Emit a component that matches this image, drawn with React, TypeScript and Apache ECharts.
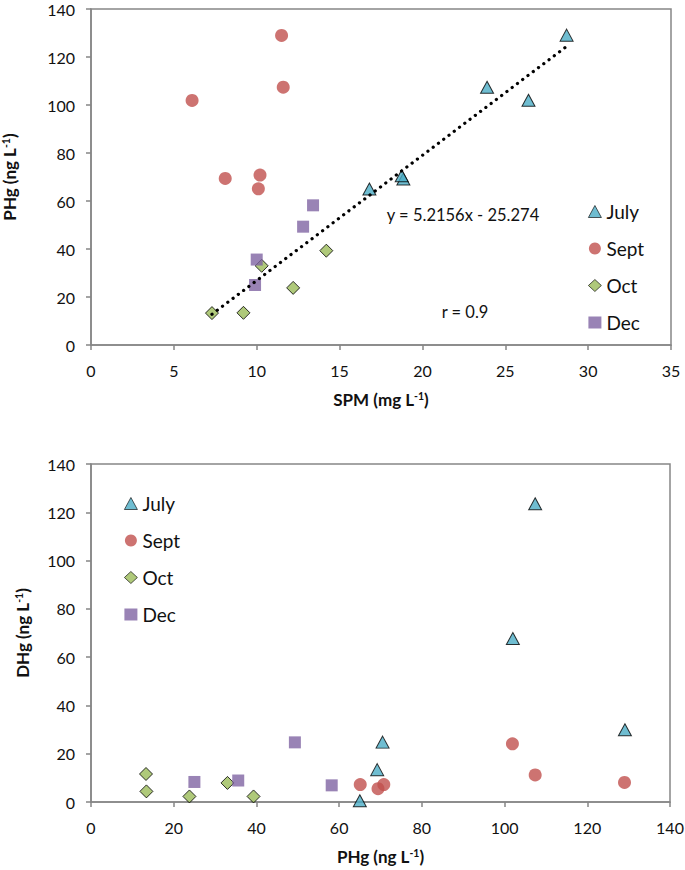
import React, { useEffect, useRef } from "react";
import * as echarts from "echarts";

// ---- data ----
const months = ["July", "Sept", "Oct", "Dec"];

const julySPM = [16.8, 18.85, 18.75, 23.9, 26.4, 28.7];
const julyPHg = [65, 69.2, 70.5, 107.4, 102, 129.1];
const julyDHg = [0.5, 13.4, 24.8, 123.5, 67.7, 29.9];

const septSPM = [6.1, 8.1, 10.2, 10.1, 11.5, 11.6];
const septPHg = [101.9, 69.4, 70.8, 65.1, 129, 107.4];
const septDHg = [24.1, 5.5, 7.2, 7.2, 8.1, 11.2];

const octSPM = [7.3, 9.2, 10.3, 12.2, 14.2];
const octPHg = [13.3, 13.4, 33, 23.8, 39.3];
const octDHg = [11.6, 4.4, 7.9, 2.3, 2.3];

const decSPM = [9.9, 10.0, 12.8, 13.4];
const decPHg = [25, 35.6, 49.3, 58.2];
const decDHg = [8.3, 8.9, 24.7, 6.9];

// regression shown on chart (July, Oct, Dec points)
const trendSlope = 5.2156;
const trendIntercept = -25.274;
const trendRange = [7.3, 28.7];
const equationText = "y = 5.2156x - 25.274";
const rText = "r = 0.9";

const topXTicks = { min: 0, max: 35, interval: 5 };
const yTicks = { min: 0, max: 140, interval: 20 };
const bottomXTicks = { min: 0, max: 140, interval: 20 };

const FONT = "Lato";
const AXIS_COLOR = "#868686";
const TEXT_COLOR = "#111";

const colors = {
  July: "#4bacc6",
  Sept: "#c0504d",
  Oct: "#9bbb59",
  Dec: "#8064a2",
};

const zip = (a: number[], b: number[]) => a.map((v, i) => [v, b[i]]);

export default function App() {
  const ref = useRef<HTMLDivElement>(null);

  useEffect(() => {
    document.body.style.margin = "0";
    if (!ref.current) return;
    const chart = echarts.init(ref.current, undefined, { renderer: "svg" });

    const richName = {
      b: { fontFamily: FONT, fontWeight: "bold", fontSize: 17, color: TEXT_COLOR },
      s: {
        fontFamily: FONT,
        fontWeight: "bold",
        fontSize: 10.5,
        color: TEXT_COLOR,
        verticalAlign: "top",
        padding: [0, 0, 7, 0],
      },
    };

    const axisCommon = {
      type: "value",
      axisLine: { show: true, onZero: false, lineStyle: { color: AXIS_COLOR, width: 1.5 } },
      axisTick: { show: true, inside: false, length: 5, lineStyle: { color: AXIS_COLOR, width: 1.5 } },
      splitLine: { show: false },
      axisLabel: { fontFamily: FONT, fontSize: 16, color: TEXT_COLOR },
    };

    const seriesStyle: any = {
      July: { symbol: "triangle", symbolSize: [13, 12], itemStyle: { color: colors.July, borderColor: "#000", borderWidth: 1 } },
      Sept: { symbol: "circle", symbolSize: 13, itemStyle: { color: colors.Sept, borderWidth: 0 } },
      Oct: { symbol: "diamond", symbolSize: 13, itemStyle: { color: colors.Oct, borderColor: "#000", borderWidth: 1 } },
      Dec: { symbol: "rect", symbolSize: 12, itemStyle: { color: colors.Dec, borderWidth: 0 } },
    };

    const topData: any = {
      July: zip(julySPM, julyPHg),
      Sept: zip(septSPM, septPHg),
      Oct: zip(octSPM, octPHg),
      Dec: zip(decSPM, decPHg),
    };
    const bottomData: any = {
      July: zip(julyPHg, julyDHg),
      Sept: zip(septPHg, septDHg),
      Oct: zip(octPHg, octDHg),
      Dec: zip(decPHg, decDHg),
    };

    const scatterSeries: any[] = [];
    months.forEach((m) => {
      scatterSeries.push({
        type: "scatter",
        name: m,
        xAxisIndex: 0,
        yAxisIndex: 0,
        data: topData[m],
        ...seriesStyle[m],
        z: 3,
      });
      scatterSeries.push({
        type: "scatter",
        name: m,
        xAxisIndex: 1,
        yAxisIndex: 1,
        data: bottomData[m],
        ...seriesStyle[m],
        z: 3,
      });
    });

    const trendData = trendRange.map((x) => [x, trendSlope * x + trendIntercept]);

    const legendCommon = {
      orient: "vertical",
      data: months,
      itemWidth: 13,
      itemHeight: 12,
      itemGap: 18,
      selectedMode: false,
      itemStyle: { borderWidth: 0.8 },
      textStyle: { fontFamily: FONT, fontSize: 19, color: TEXT_COLOR },
    };

    const gridCommon = {
      show: true,
      borderColor: AXIS_COLOR,
      borderWidth: 1.5,
      backgroundColor: "transparent",
      containLabel: false,
      outerBoundsMode: "none",
    };

    chart.setOption({
      animation: false,
      backgroundColor: "#fff",
      grid: [
        { ...gridCommon, left: 91, right: 14, top: 9, height: 336 },
        { ...gridCommon, left: 91, right: 15, top: 464, height: 338 },
      ],
      legend: [
        { ...legendCommon, left: 583, top: 197 },
        { ...legendCommon, left: 119, top: 489 },
      ],
      xAxis: [
        {
          ...axisCommon,
          gridIndex: 0,
          ...topXTicks,
          axisLabel: { ...axisCommon.axisLabel, margin: 17 },
          name: "{b|SPM (mg L}{s|-1}{b|)}",
          nameLocation: "middle",
          nameGap: 45,
          nameTextStyle: { rich: richName },
        },
        {
          ...axisCommon,
          gridIndex: 1,
          ...bottomXTicks,
          axisLabel: { ...axisCommon.axisLabel, margin: 17 },
          name: "{b|PHg (ng L}{s|-1}{b|)}",
          nameLocation: "middle",
          nameGap: 45,
          nameTextStyle: { rich: richName },
        },
      ],
      yAxis: [
        {
          ...axisCommon,
          gridIndex: 0,
          ...yTicks,
          axisLabel: { ...axisCommon.axisLabel, margin: 16 },
          name: "{b|PHg (ng L}{s|-1}{b|)}",
          nameLocation: "middle",
          nameGap: 73,
          nameRotate: 90,
          nameTextStyle: { rich: richName },
        },
        {
          ...axisCommon,
          gridIndex: 1,
          ...yTicks,
          axisLabel: { ...axisCommon.axisLabel, margin: 16 },
          name: "{b|DHg (ng L}{s|-1}{b|)}",
          nameLocation: "middle",
          nameGap: 60,
          nameRotate: 90,
          nameTextStyle: { rich: richName },
        },
      ],
      series: [
        ...scatterSeries,
        {
          type: "line",
          name: "trend",
          xAxisIndex: 0,
          yAxisIndex: 0,
          data: trendData,
          symbol: "none",
          lineStyle: { color: "#000", width: 3.2, type: [0.1, 6.5], cap: "round" },
          z: 5,
        },
      ],
      graphic: [
        {
          type: "text",
          x: 463,
          y: 215,
          style: {
            text: equationText,
            fontFamily: FONT,
            fontSize: 16.5,
            fill: TEXT_COLOR,
            align: "center",
            verticalAlign: "middle",
          },
        },
        {
          type: "text",
          x: 465,
          y: 312,
          style: {
            text: rText,
            fontFamily: FONT,
            fontSize: 16.5,
            fill: TEXT_COLOR,
            align: "center",
            verticalAlign: "middle",
          },
        },
      ],
    });

    return () => chart.dispose();
  }, []);

  return <div ref={ref} style={{ width: 685, height: 870 }} />;
}
